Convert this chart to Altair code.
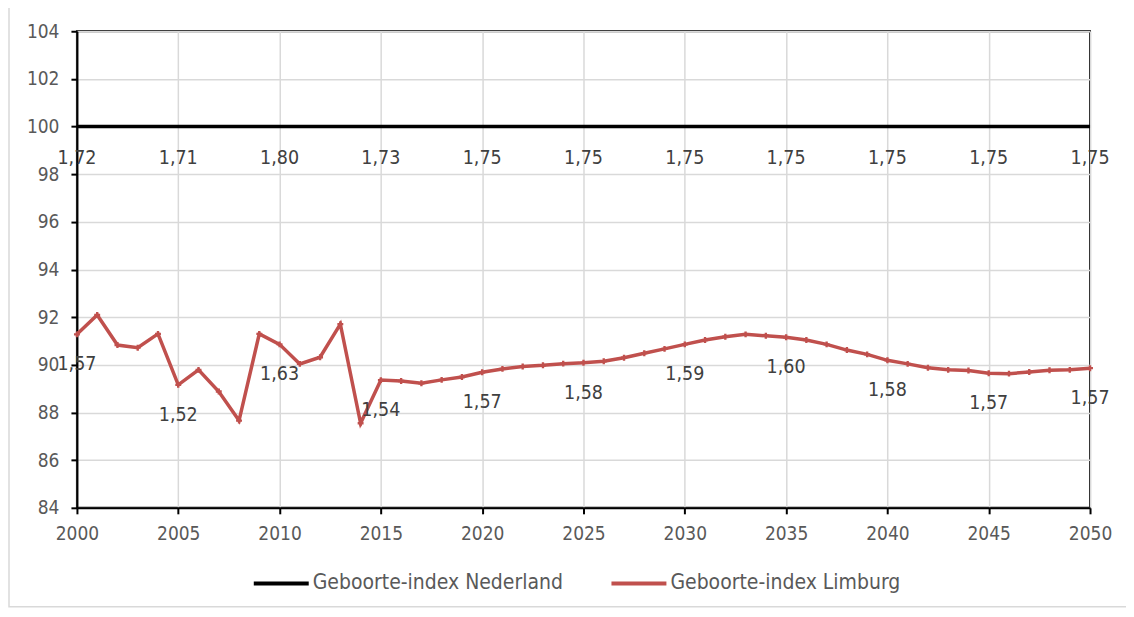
import altair as alt
import pandas as pd

years = list(range(2000, 2051))
limburg = [91.28, 92.09, 90.83, 90.72, 91.30, 89.16, 89.79, 88.88, 87.66, 91.30,
           90.86, 90.04, 90.32, 91.71, 87.55, 89.36, 89.32, 89.23, 89.37, 89.49,
           89.69, 89.83, 89.93, 89.98, 90.05, 90.09, 90.15, 90.30, 90.49, 90.67,
           90.86, 91.04, 91.18, 91.28, 91.22, 91.16, 91.04, 90.86, 90.62, 90.44,
           90.19, 90.04, 89.88, 89.79, 89.76, 89.65, 89.63, 89.70, 89.77, 89.79,
           89.86]
nederland = [100] * len(years)

label_years = list(range(2000, 2051, 5))
nl_tfr = ["1,72", "1,71", "1,80", "1,73", "1,75", "1,75", "1,75", "1,75", "1,75", "1,75", "1,75"]
li_tfr = ["1,57", "1,52", "1,63", "1,54", "1,57", "1,58", "1,59", "1,60", "1,58", "1,57", "1,57"]

S_NL = "Geboorte-index Nederland"
S_LI = "Geboorte-index Limburg"

df = pd.DataFrame({
    "jaar": years * 2,
    "index": nederland + limburg,
    "reeks": [S_NL] * len(years) + [S_LI] * len(years),
})

lab_nl = pd.DataFrame({"jaar": label_years,
                       "index": [nederland[years.index(y)] for y in label_years],
                       "tekst": nl_tfr})
lab_li = pd.DataFrame({"jaar": label_years,
                       "index": [limburg[years.index(y)] for y in label_years],
                       "tekst": li_tfr})

FONT = "DejaVu Sans Condensed, Tahoma, DejaVu Sans, sans-serif"
GRAY = "#595959"
FS = 19

x = alt.X("jaar:Q", scale=alt.Scale(domain=[2000, 2050], nice=False),
          axis=alt.Axis(values=label_years, format="d", title=None, grid=True,
                        gridColor="#d9d9d9", gridWidth=1.5, domainColor="black",
                        domainWidth=2, tickColor="black", tickWidth=2, tickSize=6,
                        labelPadding=11, labelFlush=False, labelFont=FONT,
                        labelFontSize=FS, labelColor=GRAY))
y = alt.Y("index:Q", scale=alt.Scale(domain=[84, 104], nice=False, zero=False),
          axis=alt.Axis(values=list(range(84, 105, 2)), title=None, grid=True,
                        gridColor="#d9d9d9", gridWidth=1.5, domainColor="black",
                        domainWidth=2, tickColor="black", tickWidth=2, tickSize=6,
                        labelPadding=12, labelFlush=False, labelFont=FONT,
                        labelFontSize=FS, labelColor=GRAY))

color = alt.Color("reeks:N",
                  scale=alt.Scale(domain=[S_NL, S_LI], range=["black", "#c0504d"]),
                  legend=alt.Legend(title=None, orient="none", direction="horizontal",
                                    legendX=175, legendY=523,
                                    symbolType="stroke", symbolSize=3025,
                                    symbolStrokeWidth=4, columnPadding=40,
                                    labelOffset=2, labelFont=FONT, labelFontSize=21,
                                    labelColor=GRAY, labelLimit=400))

# light grey outer frame of the chart (decoration)
frame = alt.Chart(pd.DataFrame({"f": [0]})).mark_rect(
    fill=None, stroke="#d9d9d9", strokeWidth=1.5
).encode(x=alt.value(-68), x2=alt.value(1100), y=alt.value(-28), y2=alt.value(576))

lines = alt.Chart(df).mark_line(strokeWidth=3.5).encode(x=x, y=y, color=color)

points = alt.Chart(df).transform_filter(alt.datum.reeks == S_LI).mark_point(
    shape="cross", filled=True, size=35, opacity=1
).encode(x=x, y=y, color=alt.Color("reeks:N",
                                    scale=alt.Scale(domain=[S_NL, S_LI], range=["black", "#c0504d"]),
                                    legend=None))

txt_nl = alt.Chart(lab_nl).mark_text(dy=31, font=FONT, fontSize=19.5, color="#404040").encode(
    x="jaar:Q", y="index:Q", text="tekst:N")
txt_li = alt.Chart(lab_li).mark_text(dy=30, font=FONT, fontSize=19.5, color="#404040").encode(
    x="jaar:Q", y="index:Q", text="tekst:N")

chart = alt.layer(frame, lines, points, txt_nl, txt_li).properties(
    width=1014, height=477,
    autosize=alt.AutoSizeParams(type="none"),
    padding={"left": 69, "top": 23, "right": 36, "bottom": 100},
).configure_view(stroke="black", strokeWidth=2)

chart.save("out.html", embed_options={"renderer": "svg", "actions": False})
